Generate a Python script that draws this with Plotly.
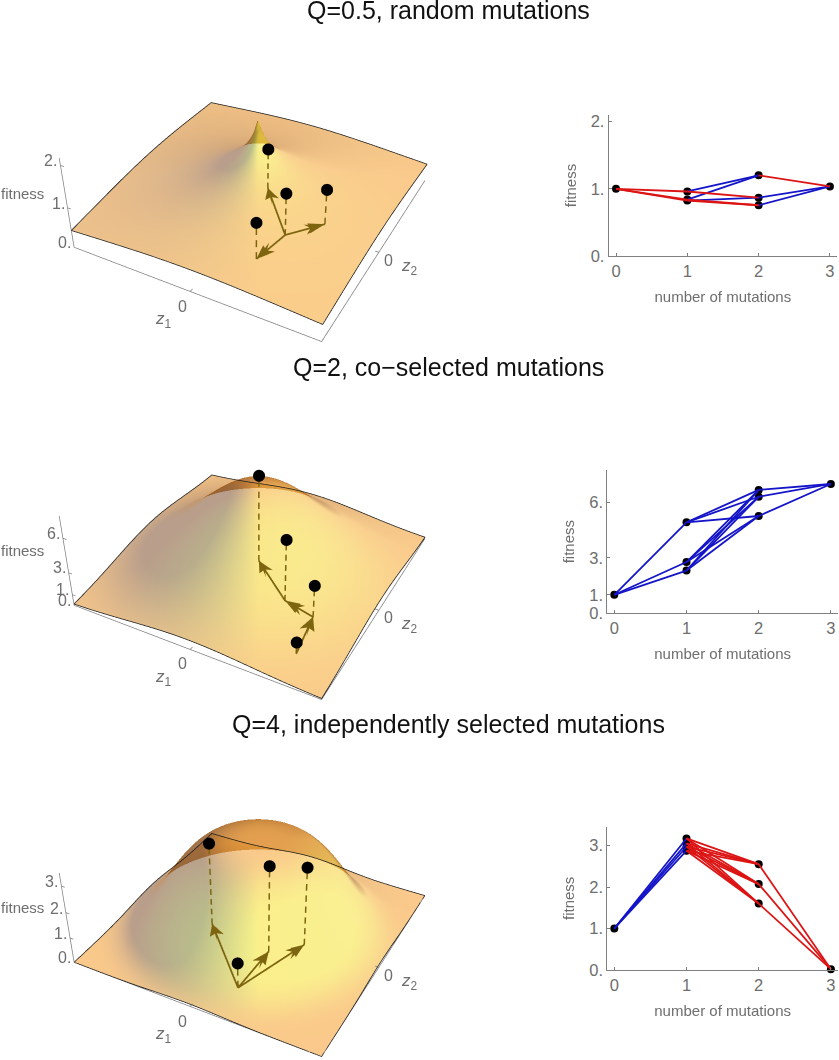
import numpy as np
import plotly.graph_objects as go

# Cartesian panels: fitness levels per number of mutations, and the edges between them
q05_mut = [0, 1, 1, 1, 2, 2, 2, 3]
q05_fit = [1.0, 0.96, 0.84, 0.825, 1.2, 0.868, 0.755, 1.035]
q05_edges = [(0,1),(0,2),(0,3),(1,4),(2,4),(1,5),(3,5),(2,6),(3,6),(4,7),(5,7),(6,7)]
q05_ticks = [0, 1, 2]
q2_mut = [0, 1, 1, 1, 2, 2, 2, 3]
q2_fit = [1.0, 4.92, 2.77, 2.31, 6.67, 6.3, 5.26, 6.99]
q2_edges = [(0,1),(0,2),(0,3),(1,4),(1,5),(1,6),(2,4),(2,5),(2,6),(3,4),(3,5),(3,6),(4,7),(5,7),(6,7)]
q2_ticks = [0, 1, 3, 6]
q4_mut = [0, 1, 1, 1, 1, 2, 2, 2, 3]
q4_fit = [1.0, 3.17, 3.05, 2.97, 2.875, 2.55, 2.07, 1.6, 0.02]
q4_edges = [(0,1),(0,2),(0,3),(0,4)] + [(a,b) for a in (1,2,3,4) for b in (5,6,7)] + [(5,8),(6,8),(7,8)]
q4_ticks = [0, 1, 2, 3]
mutation_ticks = [0, 1, 2, 3]

# 3D panels: mutation positions (z1, z2) and the fitness height of each dot
q05_z1 = [0.308, -0.077, 0.517, 0.245]
q05_z2 = [-0.146, 0.313, 0.11, -0.486]
q05_dot = [1.06, 1.02, 0.89, 0.92]
q05_arrows = [(0,1),(0,2),(0,3)]
q2_z1 = [0.667, 0.607, 0.345, -0.051]
q2_z2 = [-0.694, -0.293, -0.224, 0.11]
q2_dot = [1.06, 2.88, 5.49, 7.72]
q2_arrows = [(0,1),(1,2),(2,3)]
q4_z1 = [0.199, -0.335, 0.207, 0.407]
q4_z2 = [-0.677, -0.129, -0.219, -0.023]
q4_dot = [1.0, 3.23, 3.36, 3.07]
q4_arrows = [(0,1),(0,2),(0,3)]

# The landscapes are analytic in the original (F*exp(-(r/a)^Q)); parameters fitted by eye
Q_values = [0.5, 2.0, 4.0]
F_values = [2.5, 7.5, 3.3]
a_values = [0.4652, 0.7, 0.757]
z_tops = [2.17, 7.86, 3.48]
optimum = (-0.02, 0.04)
z1_range = (-1.0, 1.0)
z2_range = (-1.0, 1.0)
titles = ["Q=0.5, random mutations", "Q=2, co\u2212selected mutations", "Q=4, independently selected mutations"]
title_y = [10, 367, 724]

# Page geometry
W, TOTAL, OFF = 839, 1441, 168
SCENE_H, SCENE_W = 726, 516
scene_tops = [0, 357.5, 715]
BOX_H = 0.40
EYE = np.array([1.246, -2.344, 1.905])
LOOK = np.array([0.0, 0.0, -0.116])
OPACITY = 0.6
GRAY = "#6e6e6e"
AXC = "#808080"
ARROW = "#7d6510"
FONT = "Liberation Sans"

def ydom(top, bottom):
    return [1 - bottom / TOTAL, 1 - top / TOTAL]

fwd = (LOOK - EYE) / np.linalg.norm(LOOK - EYE)
right = np.cross(fwd, [0, 0, 1.0]); right /= np.linalg.norm(right)
up = np.cross(right, fwd)

def landscape(Q, F, a, top):
    N = 141
    xs = np.linspace(*z1_range, N)
    ys = np.linspace(*z2_range, N)
    X, Y = np.meshgrid(xs, ys, indexing="ij")
    r = np.hypot(X - optimum[0], Y - optimum[1])
    Z = np.minimum(F * np.exp(-(r / a) ** Q), top)
    zs = BOX_H / top
    gx, gy = np.gradient(Z, xs, ys)
    nx, ny, nz = -2 * gx * zs, -2 * gy * zs, np.ones_like(Z)
    nn = np.sqrt(nx**2 + ny**2 + nz**2)
    nrm = np.stack([nx / nn, ny / nn, nz / nn], -1)
    Xc = (X - 0.5 * sum(z1_range)) / 2
    Yc = (Y - 0.5 * sum(z2_range)) / 2
    Zc = (Z - top / 2) * zs
    P = np.stack([Xc, Yc, Zc], -1)
    toward = EYE - P
    toward = toward / np.linalg.norm(toward, axis=-1, keepdims=True)
    nt = (toward * nrm).sum(-1)
    nr = (nrm * right).sum(-1)
    nu = (nrm * up).sum(-1)
    flat_nu = up[2]
    left_f = np.clip(-2 * nr, 0, 1); right_f = np.clip(nr, 0, 1)
    front = np.clip(flat_nu - nu, 0, 1)
    back = np.clip(nu - flat_nu, 0, 0.18) / 0.18
    yel = np.clip(front + 0.3 * nr, 0, 1)
    col = np.stack([0.967 - 0.425 * left_f,
                    np.minimum(0.65 - 0.284 * left_f + 0.32 * yel * (1 - back), 0.9),
                    0.242 + 0.06 * right_f], -1)
    steep = np.clip((np.hypot(nx, ny) - 3) / 3, 0, 1)
    m = np.maximum.reduce([np.clip(1 - nt / 0.2, 0, 1), 0.55 * back, 0.8 * steep])[..., None]
    col = np.clip((1 - m) * col + m * np.array([0.62, 0.32, 0.02]), 0, 1)
    idx = np.arange(N * N).reshape(N, N)
    a0, b0, c0, d0 = idx[:-1, :-1].ravel(), idx[1:, :-1].ravel(), idx[1:, 1:].ravel(), idx[:-1, 1:].ravel()
    I = np.concatenate([a0, a0]); J = np.concatenate([b0, c0]); K = np.concatenate([c0, d0])
    Pf = P.reshape(-1, 3)
    cent = (Pf[I] + Pf[J] + Pf[K]) / 3
    order = np.argsort(-np.linalg.norm(cent - EYE, axis=1))
    vc = [f"rgb({int(r_*255)},{int(g_*255)},{int(b_*255)})" for r_, g_, b_ in col.reshape(-1, 3)]
    return X, Y, Z, I[order], J[order], K[order], vc

fig = go.Figure()
layout = dict(width=W, height=TOTAL, margin=dict(l=0, r=0, t=0, b=0, autoexpand=False), showlegend=False,
              paper_bgcolor="white", plot_bgcolor="white", font=dict(family=FONT, color=GRAY))
camera = dict(eye=dict(x=EYE[0], y=EYE[1], z=EYE[2]), center=dict(x=LOOK[0], y=LOOK[1], z=LOOK[2]),
              up=dict(x=0, y=0, z=1), projection=dict(type="perspective"))

def scene_cfg(p, zr, aspect, ann=None, e=0.0):
    hid = dict(visible=False, showgrid=False, zeroline=False, showbackground=False, autorange=False)
    return dict(domain=dict(x=[0, SCENE_W / W], y=ydom(scene_tops[p], scene_tops[p] + SCENE_H)),
                xaxis=dict(range=[z1_range[0] - e, z1_range[1] + e], **hid),
                yaxis=dict(range=[z2_range[0] - e, z2_range[1] + e], **hid),
                zaxis=dict(range=zr, **hid), aspectmode="manual",
                aspectratio=dict(x=1 + e, y=1 + e, z=aspect), camera=camera,
                bgcolor="rgba(0,0,0,0)", annotations=ann or [])

def ann3d(x, y, z, text, dx, dy, anchor="center", size=16):
    return dict(x=x, y=y, z=z, text=text, showarrow=False, xshift=dx, yshift=dy, xanchor=anchor,
                yanchor="middle", font=dict(family=FONT, size=size, color=GRAY))

panels = [
    (q05_z1, q05_z2, q05_dot, q05_arrows, [0, 1, 2], 1.35),
    (q2_z1, q2_z2, q2_dot, q2_arrows, [0, 1, 3, 6], 4.9),
    (q4_z1, q4_z2, q4_dot, q4_arrows, [0, 1, 2, 3], 2.2),
]
x0, x1 = z1_range
y0, y1 = z2_range
for p, (mz1, mz2, dots, arrows, zticks, fit_lab) in enumerate(panels):
    top = z_tops[p]
    X, Y, Z, I, J, K, vc = landscape(Q_values[p], F_values[p], a_values[p], top)
    sid = f"scene{2*p+1}" if p else "scene"
    oid = f"scene{2*p+2}"
    fig.add_trace(go.Mesh3d(x=X.ravel(), y=Y.ravel(), z=Z.ravel(), i=I, j=J, k=K, vertexcolor=vc,
                            opacity=OPACITY, hoverinfo="skip", showscale=False, flatshading=False,
                            lighting=dict(ambient=1, diffuse=0, specular=0, fresnel=0, roughness=1),
                            scene=sid))
    layout[sid] = scene_cfg(p, [0, top], BOX_H)
    m = top * 0.1
    per_z = BOX_H / top * 215  # on-screen pixels per fitness unit, for the dash rhythm
    # box lines and ticks
    lx = [x0, x0, None, x0, x1, x1]
    ly = [y0, y0, None, y0, y0, y1]
    lz = [0, top, None, 0, 0, 0]
    lx += [None, 0, 0]; ly += [None, y0, y0 + 0.03]; lz += [None, 0, 0]
    lx += [None, x1, x1 - 0.03]; ly += [None, 0, 0]; lz += [None, 0, 0]
    for t in zticks:
        lx += [None, x0, x0 + 0.03]; ly += [None, y0, y0]; lz += [None, t, t]
    fig.add_trace(go.Scatter3d(x=lx, y=ly, z=lz, mode="lines", line=dict(color=AXC, width=1.5),
                               hoverinfo="skip", scene=oid))
    # surface outline
    ex = np.concatenate([X[:, 0], X[-1, :], X[::-1, -1], X[0, ::-1]])
    ey = np.concatenate([Y[:, 0], Y[-1, :], Y[::-1, -1], Y[0, ::-1]])
    ez = np.concatenate([Z[:, 0], Z[-1, :], Z[::-1, -1], Z[0, ::-1]])
    fig.add_trace(go.Scatter3d(x=ex, y=ey, z=ez, mode="lines", line=dict(color="#1c1c1c", width=1.5),
                               hoverinfo="skip", scene=oid))
    # dashed stems
    dx, dy, dz = [], [], []
    for a, b, c in zip(mz1, mz2, dots):
        n = max(1, int(round(c * per_z / 10.5)))
        period = c / n
        for q in range(n):
            dx += [a, a, None]; dy += [b, b, None]
            dz += [q * period, (q + 0.58) * period, None]
    fig.add_trace(go.Scatter3d(x=dx, y=dy, z=dz, mode="lines", line=dict(color=ARROW, width=3),
                               hoverinfo="skip", scene=oid))
    # arrows: shaft plus a notched head built from two crossed sheets
    ax, ay = [], []
    hx, hy, hz, hi, hj, hk = [], [], [], [], [], []
    HL, HW = 0.15, 0.055
    for s, e in arrows:
        ax += [mz1[s], mz1[e], None]; ay += [mz2[s], mz2[e], None]
        v = np.array([mz1[e] - mz1[s], mz2[e] - mz2[s]]); v = v / np.linalg.norm(v)
        w = np.array([-v[1], v[0]])
        tip = np.array([mz1[e], mz2[e]])
        notch = tip - 0.8 * HL * v
        back_pt = tip - HL * v
        b0 = len(hx)
        hw_z = HW / 2 / (BOX_H / top)
        pts = [(tip, 0), (back_pt + HW * w, 0), (notch, 0), (back_pt - HW * w, 0), (back_pt, hw_z), (back_pt, -hw_z)]
        for pt, zz in pts:
            hx.append(float(pt[0])); hy.append(float(pt[1])); hz.append(float(zz))
        for tri in [(0, 1, 2), (0, 2, 3), (0, 4, 2), (0, 2, 5)]:
            hi.append(b0 + tri[0]); hj.append(b0 + tri[1]); hk.append(b0 + tri[2])
    fig.add_trace(go.Scatter3d(x=ax, y=ay, z=[0 if q is not None else None for q in ax], mode="lines",
                               line=dict(color=ARROW, width=3.5), hoverinfo="skip", scene=oid))
    fig.add_trace(go.Mesh3d(x=hx, y=hy, z=hz, i=hi, j=hj, k=hk, color=ARROW, hoverinfo="skip",
                            lighting=dict(ambient=1, diffuse=0, specular=0, fresnel=0), scene=oid))
    fig.add_trace(go.Scatter3d(x=mz1, y=mz2, z=dots, mode="markers",
                               marker=dict(color="black", size=7, line=dict(width=0)),
                               hoverinfo="skip", scene=oid))
    ann = [ann3d(x0, y0, t, f"{t}.", -1, 4.5, "right") for t in zticks]
    ann.append(ann3d(x0, y0, fit_lab, "fitness", -19, 0, "right", 15))
    ann.append(ann3d(0, y0, 0, "0", -8, -15))
    ann.append(ann3d(0, y0, 0, "<i>z</i><sub>1</sub>", -27, -29, size=17))
    ann.append(ann3d(x1, 0, 0, "0", 10, -8))
    ann.append(ann3d(x1, 0, 0, "<i>z</i><sub>2</sub>", 31, -15, size=17))
    layout[oid] = scene_cfg(p, [-m, top + m], BOX_H * 1.2, ann, e=0.05)

# 2D panels
charts = [
    (q05_mut, q05_fit, q05_edges, q05_ticks, (608.7, 837), (115, 256), (616, 71.3), 67.2),
    (q2_mut, q2_fit, q2_edges, q2_ticks, (607.3, 838), (470, 613.3), (614.3, 72.2), 18.5),
    (q4_mut, q4_fit, q4_edges, q4_ticks, (607.3, 838), (826.7, 970), (614.3, 72.2), 41.5),
]
for c, (mut, fit, edges, yt, xpx, ypx, (x_o, x_u), y_u) in enumerate(charts):
    xa = f"x{c+1}" if c else "x"
    ya = f"y{c+1}" if c else "y"
    fig.add_trace(go.Scatter(x=mut, y=fit, mode="markers", marker=dict(color="black", size=8),
                             cliponaxis=False, hoverinfo="skip", xaxis=xa, yaxis=ya))
    for col, test in (("#1414c8", lambda a, b: fit[b] >= fit[a]), ("#dc1414", lambda a, b: fit[b] < fit[a])):
        lx, ly = [], []
        for a, b in edges:
            if test(a, b):
                lx += [mut[a], mut[b], None]; ly += [fit[a], fit[b], None]
        if lx:
            fig.add_trace(go.Scatter(x=lx, y=ly, mode="lines", line=dict(color=col, width=1.8),
                                     cliponaxis=False, hoverinfo="skip", xaxis=xa, yaxis=ya))
    common = dict(showgrid=False, zeroline=False, showline=True, linecolor=AXC, linewidth=1, ticks="inside",
                  ticklen=3, tickcolor=AXC, tickfont=dict(family=FONT, size=16.5, color=GRAY))
    layout[f"xaxis{c+1}"] = dict(domain=[xpx[0] / W, xpx[1] / W], anchor=ya,
                                 range=[(xpx[0] - x_o) / x_u, (xpx[1] - x_o) / x_u],
                                 tickvals=mutation_ticks, ticktext=[str(t) for t in mutation_ticks],
                                 title=dict(text="number of mutations", standoff=12,
                                            font=dict(family=FONT, size=15, color=GRAY)), **common)
    layout[f"yaxis{c+1}"] = dict(domain=ydom(ypx[0] + OFF, ypx[1] + OFF), anchor=xa,
                                 range=[0, (ypx[1] - ypx[0]) / y_u],
                                 tickvals=yt, ticktext=[f"{t}." for t in yt],
                                 title=dict(text="fitness", standoff=10,
                                            font=dict(family=FONT, size=15, color=GRAY)), **common)

layout["annotations"] = [
    dict(text=t, x=448 / W, y=1 - (yy + OFF) / TOTAL, xref="paper", yref="paper", showarrow=False,
         xanchor="center", yanchor="middle", font=dict(family=FONT, size=25, color="#111111"))
    for t, yy in zip(titles, title_y)
]
fig.update_layout(**layout)

post = ("var g=document.getElementById('{plot_id}');g.style.position='absolute';g.style.left='0';"
        "g.style.top='-%dpx';var d=document.documentElement;d.style.height='1060px';d.style.overflow='hidden';"
        "document.body.style.margin='0';document.body.style.height='1060px';document.body.style.overflow='hidden';" % OFF)
fig.write_html("out.html", post_script=post)
